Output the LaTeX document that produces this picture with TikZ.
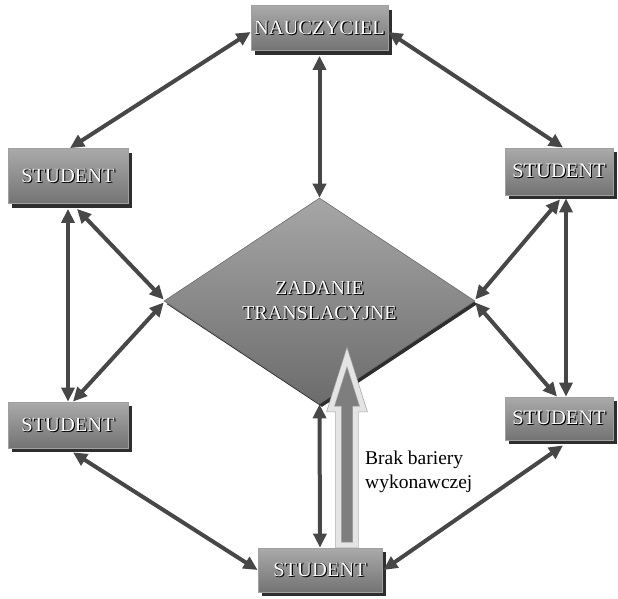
\documentclass[tikz,border=0pt]{standalone}
\usepackage{fontspec}
\setmainfont{Liberation Serif}
\usetikzlibrary{arrows.meta,shapes.geometric,shadows}
\definecolor{arr}{HTML}{474747}
\definecolor{boxtop}{HTML}{AAAAAA}
\definecolor{boxbot}{HTML}{737373}
\definecolor{boxedge}{HTML}{A0A0A0}
\definecolor{shad}{HTML}{2E2E2E}
\definecolor{dtop}{HTML}{A6A6A6}
\definecolor{dbot}{HTML}{6C6C6C}
\definecolor{bigfill}{HTML}{7E7E7E}
\definecolor{bigband}{HTML}{E4E4E4}
\definecolor{bigedge}{HTML}{A8A8A8}
\newcommand\embtext[1]{\makebox[0pt][l]{\hspace*{1.1pt}\raisebox{-0.9pt}{\textcolor{black}{#1}}}\makebox[0pt][l]{\hspace*{0.5pt}\raisebox{-0.3pt}{\textcolor{black}{#1}}}\textcolor{white}{#1}}
\begin{document}
\begin{tikzpicture}[x=1pt,y=-1pt,
  box/.style={draw=boxedge, line width=0.8pt, top color=boxtop, bottom color=boxbot,
    inner sep=0pt, font=\fontsize{20.5}{22}\selectfont,
    drop shadow={shadow xshift=4pt, shadow yshift=-4pt, fill=shad, opacity=1}},
  task/.style={diamond, draw=dbot, line width=0.6pt, top color=dtop, bottom color=dbot,
    inner sep=0pt, aspect=1.5, align=center, font=\fontsize{20}{25}\selectfont,
    drop shadow={shadow xshift=2.5pt, shadow yshift=-3pt, fill=shad, opacity=1}},
  link/.style={draw=arr, line width=4pt,
    {Triangle[length=14pt,width=13pt]}-{Triangle[length=14pt,width=13pt]}},
  bigarrow/.style={draw=bigedge, line width=0.7pt, double=bigband, double distance=5pt,
    fill=bigfill, line join=miter},
]
\useasboundingbox (0,0) rectangle (618,598);

% nodes
\node[task, minimum width=311pt, minimum height=206pt] (D) at (319.5,301)
  {\embtext{ZADANIE}\\\embtext{TRANSLACYJNE}};
\node[box, minimum width=137pt, minimum height=45pt] (T) at (319.5,28) {\embtext{NAUCZYCIEL}};
\node[box, minimum width=120pt, minimum height=55pt] (LT) at (68,176) {\embtext{STUDENT}};
\node[box, minimum width=108pt, minimum height=47pt] (RT) at (559,171.5) {\embtext{STUDENT}};
\node[box, minimum width=120pt, minimum height=46pt] (LB) at (68,425) {\embtext{STUDENT}};
\node[box, minimum width=108pt, minimum height=43pt] (RB) at (559,418.5) {\embtext{STUDENT}};
\node[box, minimum width=124pt, minimum height=44pt] (B) at (320,570) {\embtext{STUDENT}};

% connectors
\draw[link] ([yshift=-4pt]T.west) -- ([xshift=2pt]LT.north);
\draw[link] ([yshift=-4pt]T.east) -- ([xshift=4pt]RT.north);
\draw[link] ([yshift=-5pt]T.south) -- (D.north);
\draw[link] ([yshift=-5pt]LT.south) -- (LB.north);
\draw[link] ([xshift=9pt,yshift=-5pt]LT.south) -- ([yshift=1.5pt]D.west);
\draw[link] ([xshift=5pt]LB.north) -- ([yshift=-1.5pt]D.west);
\draw[link] ([xshift=7pt,yshift=-3pt]RT.south) -- ([xshift=7pt]RB.north);
\draw[link] ([xshift=1pt,yshift=-4pt]RT.south) -- ([yshift=1.5pt]D.east);
\draw[link] ([xshift=-2pt]RB.north) -- ([yshift=-1.5pt]D.east);
\draw[link] ([xshift=5pt,yshift=-4pt]LB.south) -- (B.west);
\draw[link] ([xshift=4pt,yshift=-5pt]RB.south) -- ([xshift=1pt]B.east);
\draw[link] (B.north) -- (D.south);

% big hollow arrow
\coordinate (hb1) at (338.5,545);
\coordinate (hb2) at (355.5,545);
\coordinate (ht) at (347,357);
\draw[bigarrow] (hb1) -- (338.5,409) -- (330.5,409) -- (ht) -- (363.5,409)
  -- (355.5,409) -- (hb2) -- cycle;

% label
\node[anchor=west, align=left, inner sep=0pt, font=\fontsize{19.5}{24}\selectfont] (L)
  at (365,472) {Brak bariery\\wykonawczej};
\end{tikzpicture}
\end{document}
